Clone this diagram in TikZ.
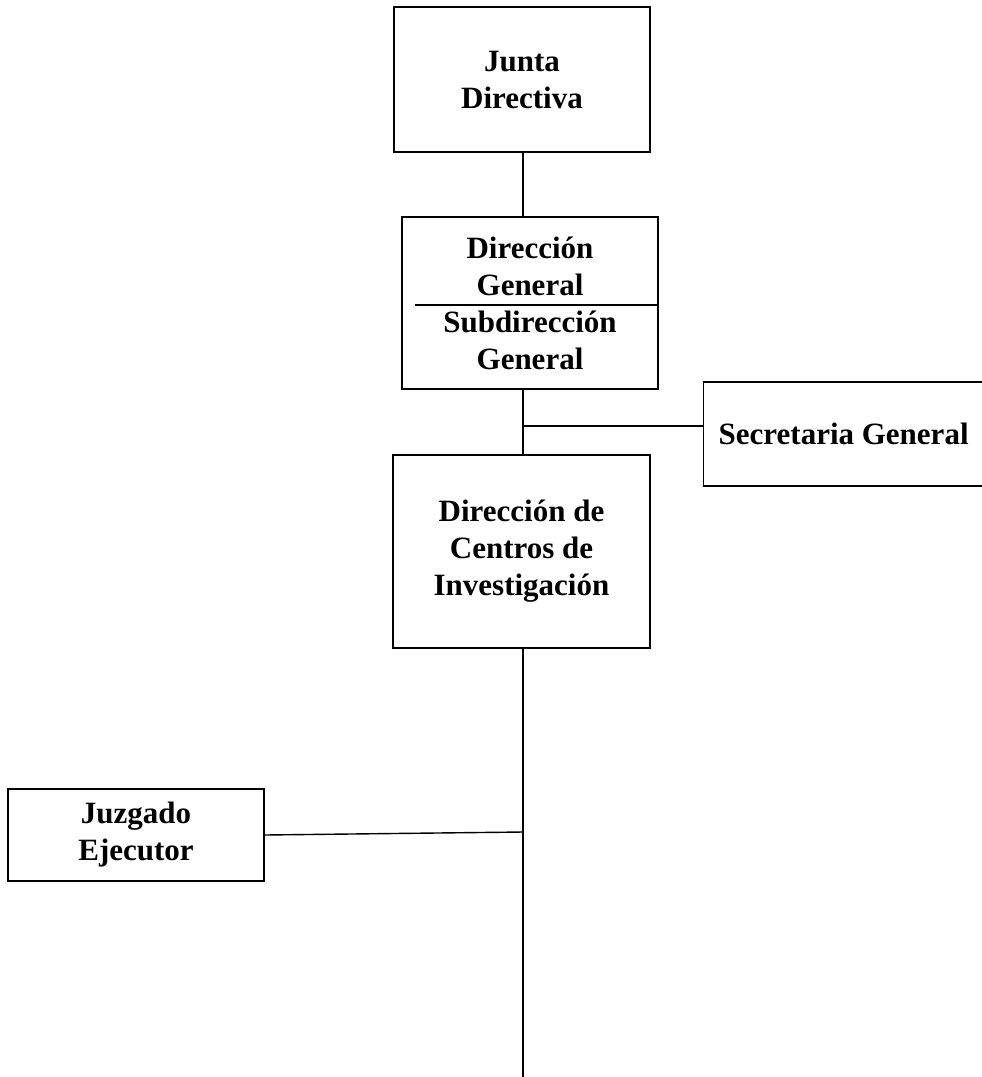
\documentclass[tikz,border=0pt]{standalone}
\usepackage{fontspec}
\setmainfont{Liberation Serif}
\usetikzlibrary{positioning}

\begin{document}
\begin{tikzpicture}[x=1pt,y=-1pt,line width=2pt,draw=black]
    \tikzstyle{caja}=[rectangle,draw=black,line width=2pt,inner sep=0pt,align=center,font=\fontsize{31}{37}\selectfont\bfseries]
    \tikzstyle{caja fina}=[caja,line width=1.4pt]
    \tikzstyle{rama}=[line width=1.4pt]

    \useasboundingbox (0,0) rectangle (982,1077);
    \clip (0,0) rectangle (982,1077);

    \coordinate (eje) at (523,0);
    \coordinate (fin) at (523,1077);

    \node[caja, minimum width=256pt, minimum height=145pt] (junta) at (522,79.5) {Junta\\Directiva};
    \node[caja, minimum width=256pt, minimum height=172pt] (dirgen) at (530,303) {Dirección\\General\\Subdirección\\General};
    \node[caja fina, anchor=west, inner xsep=15pt, minimum height=104pt] (secre) at (703,434) {Secretaria General};
    \node[caja, minimum width=257pt, minimum height=193pt] (centros) at (521.5,551.5) {Dirección de\\Centros de\\Investigación};
    \node[caja fina, minimum width=256pt, minimum height=92pt] (juzgado) at (136,835) {Juzgado\\Ejecutor};

    \coordinate (div) at (415,305);
    \draw[rama] (div) -- (div -| dirgen.east);

    \draw (eje |- junta.south) -- (eje |- dirgen.north);
    \draw (eje |- dirgen.south) -- (eje |- centros.north);
    \draw (eje |- centros.south) -- (fin);

    \coordinate (ramal) at (523,426);
    \draw[rama] (ramal) -- (ramal -| secre.west);
    \coordinate (cruce) at (523,832);
    \draw[rama] (juzgado.east) -- (cruce);
\end{tikzpicture}
\end{document}
